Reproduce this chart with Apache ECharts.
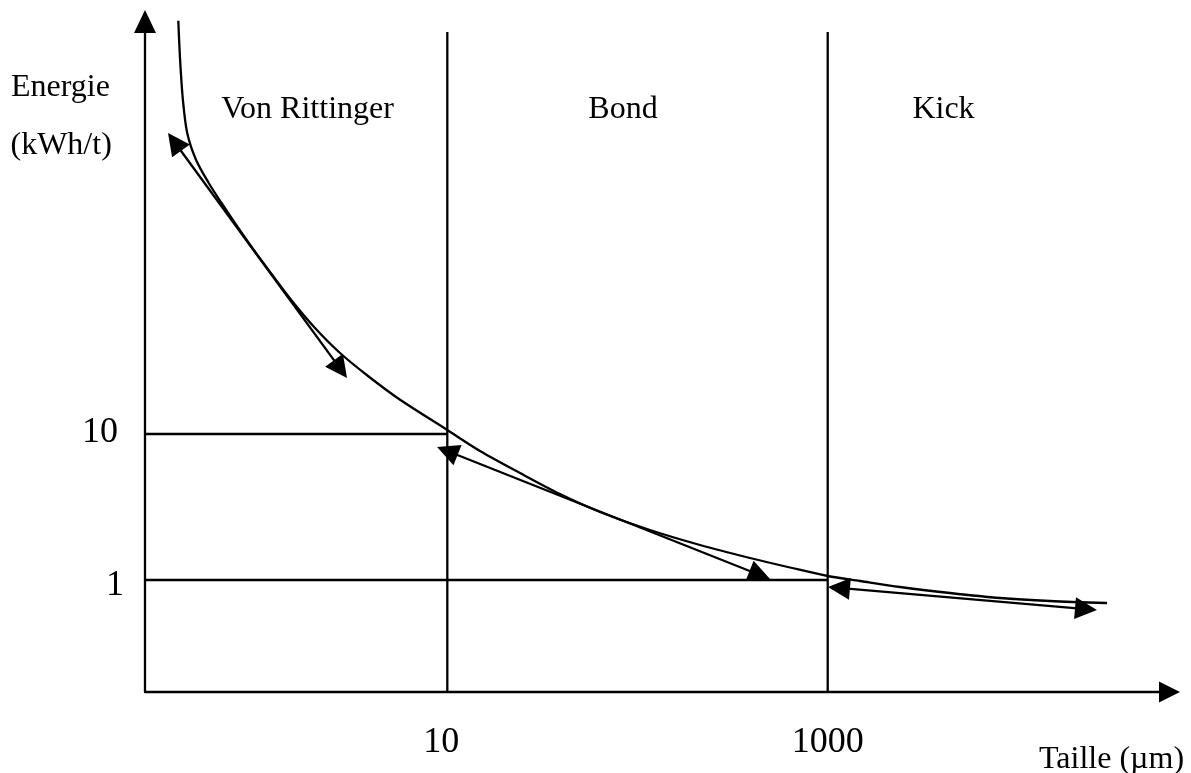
<!DOCTYPE html>
<html>
<head>
<meta charset="utf-8">
<title>Energie de broyage</title>
<script src="https://cdn.jsdelivr.net/npm/echarts@6/dist/echarts.min.js"></script>
<style>
  html, body { margin: 0; padding: 0; background: #fff; }
  #chart { width: 1191px; height: 773px; }
</style>
</head>
<body>
<div id="chart"></div>
<script>
// Both axes are in decades: log10(taille en µm) and log10(energie en kWh/t)
const X_MIN = -0.5894, X_MAX = 4.797;
const Y_MIN = -0.7671, Y_MAX = 3.8253;

// energy curve
const curveLogTaille = [-0.4143, -0.4048, -0.3901, -0.3675, -0.3207, -0.2545, -0.1872, -0.1025, -0.0252, 0.0757,
  0.1835, 0.3044, 0.4359, 0.5831, 0.7461, 1.0, 1.1719, 1.3822, 1.5925, 1.8028,
  2.0657, 2.3286, 2.5915, 2.8018, 3.0, 3.1698, 3.3801, 3.6430, 3.9059, 4.1688, 4.4685];
const curveLogEnergie = [3.8308, 3.5616, 3.2877, 3.0616, 2.8767, 2.7192, 2.5822, 2.4178, 2.2740, 2.0959,
  1.9110, 1.7260, 1.5548, 1.3973, 1.2397, 1.0274, 0.8836, 0.7329, 0.5890, 0.4658,
  0.3425, 0.2397, 0.1507, 0.0856, 0.0274, -0.0068, -0.0479, -0.0890, -0.1233, -0.1438, -0.1575];

// tick labels: 10 and 1000 µm, 1 and 10 kWh/t
const xTicks = [1, 3];
const yTicks = [0, 1];

// horizontal guides (energy level, size where they stop)
const guideLevels = [1, 0];
const guideEnds = [1, 3];
// vertical zone bounds
const zoneBounds = [1, 3];
const zoneTop = 3.753;
const zoneNames = ['Von Rittinger', 'Bond', 'Kick'];

// tangent arrows (both ends)
const tangentFrom = [[-0.4343, 3.0], [1.0, 0.8832], [3.059, -0.0544]];
const tangentTo = [[0.4385, 1.4445], [2.643, 0.0346], [4.358, -0.199]];

const FONT = '"Liberation Serif", "Times New Roman", serif';
const black = '#000';
const LW = 2.3;

function tickLabel(v, list, styled) {
  const hit = list.find(t => Math.abs(t - v) < 1e-6);
  if (hit === undefined) return '';
  const txt = String(Math.round(Math.pow(10, hit)));
  const key = styled[hit];
  return key ? '{' + key + '|' + txt + '}' : txt;
}

const plainLine = (data) => ({
  type: 'line',
  data: data,
  showSymbol: false,
  silent: true,
  clip: false,
  lineStyle: { color: black, width: LW },
  emphasis: { disabled: true }
});

const series = [];

// curve + tangents
series.push(Object.assign(plainLine(curveLogTaille.map((x, i) => [x, curveLogEnergie[i]])), {
  smooth: 0.3,
  markLine: {
    silent: true,
    symbol: ['triangle', 'triangle'],
    symbolSize: [22, 22],
    label: { show: false },
    lineStyle: { color: black, width: LW, type: 'solid' },
    itemStyle: { color: black },
    emphasis: { disabled: true },
    data: tangentFrom.map((p, i) => [{ coord: p }, { coord: tangentTo[i] }])
  }
}));

guideLevels.forEach((lvl, i) => {
  series.push(plainLine([[X_MIN, lvl], [guideEnds[i], lvl]]));
});
zoneBounds.forEach(b => {
  series.push(plainLine([[b, Y_MIN], [b, zoneTop]]));
});

const textEl = (x, y, text, align) => ({
  type: 'text',
  x: x,
  y: y,
  silent: true,
  style: {
    text: text,
    font: '32px ' + FONT,
    fill: black,
    textAlign: align, align: align,
    textVerticalAlign: 'middle', verticalAlign: 'middle'
  }
});

const zoneX = [307.5, 623, 943.5];

const numStyle = { fontFamily: FONT, fontSize: 36, lineHeight: 36, color: black };

const chart = echarts.init(document.getElementById('chart'));

const option = {
  animation: false,
  backgroundColor: '#fff',
  grid: { left: 145, right: 21.5, top: 21.5, bottom: 81, containLabel: false, outerBoundsMode: 'none' },
  xAxis: {
    type: 'value',
    min: X_MIN,
    max: X_MAX,
    axisLine: {
      onZero: false,
      symbol: ['none', 'triangle'],
      symbolSize: [21, 21],
      lineStyle: { color: black, width: LW }
    },
    axisTick: { show: false },
    splitLine: { show: false },
    axisLabel: Object.assign({
      customValues: xTicks,
      margin: 33,
      formatter: v => tickLabel(v, xTicks, { 1: 'a' }),
      rich: { a: Object.assign({ padding: [0, 12, 0, 0] }, numStyle) }
    }, numStyle)
  },
  yAxis: {
    type: 'value',
    min: Y_MIN,
    max: Y_MAX,
    axisLine: {
      onZero: false,
      symbol: ['none', 'triangle'],
      symbolSize: [22, 23],
      lineStyle: { color: black, width: LW }
    },
    axisTick: { show: false },
    splitLine: { show: false },
    axisLabel: Object.assign({
      customValues: yTicks,
      margin: 21,
      formatter: v => tickLabel(v, yTicks, { 0: 'b', 1: 'c' }),
      rich: {
        b: Object.assign({ padding: [12, 0, 0, 0] }, numStyle),
        c: Object.assign({ padding: [0, 6, 3, 0] }, numStyle)
      }
    }, numStyle)
  },
  graphic: [
    textEl(11, 88, 'Energie', 'left'),
    textEl(10.5, 146, '(kWh/t)', 'left'),
    textEl(1039, 760, 'Taille (µm)', 'left')
  ].concat(zoneNames.map((n, i) => textEl(zoneX[i], 110, n, 'center'))),
  series: series
};

chart.setOption(option);
</script>
</body>
</html>
